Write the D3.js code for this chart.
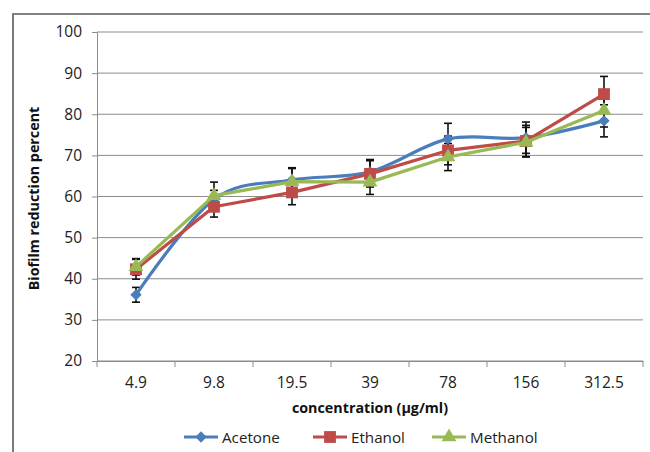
<!DOCTYPE html>
<html>
<head>
<meta charset="utf-8">
<script src="https://cdn.jsdelivr.net/npm/d3@7"></script>
<style>
  body { margin: 0; background: #fff; }
  svg { display: block; font-family: "Open Sans", sans-serif; }
</style>
</head>
<body>
<svg id="chart" width="650" height="452"></svg>
<script>
let w = 650
let h = 452

let categories = ["4.9", "9.8", "19.5", "39", "78", "156", "312.5"]
let acetone = [36.1, 59.3, 64.0, 66.0, 74.0, 74.3, 78.4]
let ethanol = [42.3, 57.5, 61.0, 65.5, 71.2, 73.5, 84.9]
let methanol = [42.9, 60.2, 63.6, 63.5, 69.6, 73.2, 80.9]
let acetoneErr = [1.8, 2.2, 3.0, 3.0, 3.8, 3.8, 3.9]
let ethanolErr = [2.4, 2.5, 3.0, 3.2, 3.5, 3.8, 4.3]
let methanolErr = [2.0, 3.3, 3.2, 3.0, 3.3, 3.6, 4.0]
let yTicks = [20, 30, 40, 50, 60, 70, 80, 90, 100]
let seriesNames = ["Acetone", "Ethanol", "Methanol"]

let colorArr = ["#4a7ebb", "#be4b48", "#98b954"]

let series = [
  {name: seriesNames[0], values: acetone, err: acetoneErr, color: colorArr[0], symbol: "diamond", smooth: true},
  {name: seriesNames[1], values: ethanol, err: ethanolErr, color: colorArr[1], symbol: "square", smooth: false},
  {name: seriesNames[2], values: methanol, err: methanolErr, color: colorArr[2], symbol: "triangle", smooth: false}
]

let svg = d3.select('#chart')

let plotL = 97, plotR = 643, plotT = 32, plotB = 361

let x = d3.scaleBand().domain(categories).range([plotL, plotR])
let y = d3.scaleLinear().domain([20, 100]).range([plotB, plotT])

// outer frame (top and left only are visible)
svg.append('path')
  .attr('d', `M13,${h} L13,14 L${w},14`)
  .attr('fill', 'none')
  .attr('stroke', '#5a5a5a')
  .attr('stroke-width', 1.6)

// gridlines
svg.append('g')
  .selectAll('line')
  .data(yTicks)
  .join('line')
  .attr('x1', plotL)
  .attr('x2', plotR)
  .attr('y1', d => y(d))
  .attr('y2', d => y(d))
  .attr('stroke', '#8c8c8c')
  .attr('stroke-width', 1)

// y axis
let yAxis = svg.append('g')
  .attr('transform', `translate(${plotL},0)`)
  .call(d3.axisLeft(y).tickValues(yTicks).tickSize(5).tickPadding(10))
yAxis.select('.domain').attr('stroke', '#8c8c8c')
yAxis.selectAll('.tick line').attr('stroke', '#8c8c8c')
yAxis.selectAll('text').attr('font-size', '15.5px').attr('fill', '#222').attr('font-family', '"Open Sans", sans-serif')

// x axis: labels centred in bands, ticks on band edges
let xAxis = svg.append('g')
  .attr('transform', `translate(0,${plotB})`)
  .call(d3.axisBottom(x).tickSize(0).tickPadding(16))
xAxis.select('.domain').attr('stroke', '#8c8c8c')
xAxis.selectAll('text').attr('font-size', '15.5px').attr('fill', '#222').attr('font-family', '"Open Sans", sans-serif')
xAxis.selectAll('.edge')
  .data(categories.map(c => x(c)).concat([plotR]))
  .join('line')
  .attr('class', 'edge')
  .attr('x1', d => d)
  .attr('x2', d => d)
  .attr('y1', 0)
  .attr('y2', 6)
  .attr('stroke', '#8c8c8c')

// axis titles
svg.append('text')
  .attr('transform', `translate(39,${(plotT + plotB) / 2 + 2}) rotate(-90)`)
  .attr('text-anchor', 'middle')
  .attr('font-size', '14.3px')
  .attr('font-weight', 'bold')
  .attr('fill', '#111')
  .text('Biofilm reduction percent')

svg.append('text')
  .attr('x', (plotL + plotR) / 2)
  .attr('y', 413)
  .attr('text-anchor', 'middle')
  .attr('font-size', '14.3px')
  .attr('font-weight', 'bold')
  .attr('fill', '#111')
  .text('concentration (µg/ml)')

let cx = d => x(d) + x.bandwidth() / 2

let symbolPath = (type) => {
  if (type === 'diamond') return d3.symbol(d3.symbolSquare, 64)()
  if (type === 'square') return d3.symbol(d3.symbolSquare, 140)()
  return d3.symbol(d3.symbolTriangle, 95)()
}

// error bars
series.forEach(s => {
  let g = svg.append('g')
  s.values.forEach((v, i) => {
    let px = cx(categories[i])
    let y1 = y(v + s.err[i]), y2 = y(v - s.err[i])
    g.append('line').attr('x1', px).attr('x2', px).attr('y1', y1).attr('y2', y2)
    g.append('line').attr('x1', px - 4).attr('x2', px + 4).attr('y1', y1).attr('y2', y1)
    g.append('line').attr('x1', px - 4).attr('x2', px + 4).attr('y1', y2).attr('y2', y2)
  })
  g.selectAll('line').attr('stroke', '#111').attr('stroke-width', 1.6)
})

// lines and markers
series.forEach(s => {
  let line = d3.line()
    .x((d, i) => cx(categories[i]))
    .y(d => y(d))
    .curve(s.smooth ? d3.curveCardinal.tension(0) : d3.curveLinear)

  svg.append('path')
    .datum(s.values)
    .attr('d', line)
    .attr('fill', 'none')
    .attr('stroke', s.color)
    .attr('stroke-width', 3.2)
    .attr('stroke-linejoin', 'round')

  svg.append('g')
    .selectAll('path')
    .data(s.values)
    .join('path')
    .attr('d', symbolPath(s.symbol))
    .attr('transform', (d, i) => `translate(${cx(categories[i])},${y(d)})` + (s.symbol === 'diamond' ? ' rotate(45)' : ''))
    .attr('fill', s.color)
})

// legend
let legendX = [184, 313, 432]
let legendBlock = svg.append('g')
  .selectAll('g')
  .data(series)
  .join('g')
  .attr('transform', (d, i) => `translate(${legendX[i]},437)`)

legendBlock.append('line')
  .attr('x1', 0).attr('x2', 34).attr('y1', 0).attr('y2', 0)
  .attr('stroke', d => d.color)
  .attr('stroke-width', 3.2)

legendBlock.append('path')
  .attr('d', d => symbolPath(d.symbol))
  .attr('transform', d => 'translate(17,0)' + (d.symbol === 'diamond' ? ' rotate(45)' : ''))
  .attr('fill', d => d.color)

legendBlock.append('text')
  .text(d => d.name)
  .attr('x', 38)
  .attr('y', 5.5)
  .attr('font-size', '15.2px')
  .attr('fill', '#222')
</script>
</body>
</html>
